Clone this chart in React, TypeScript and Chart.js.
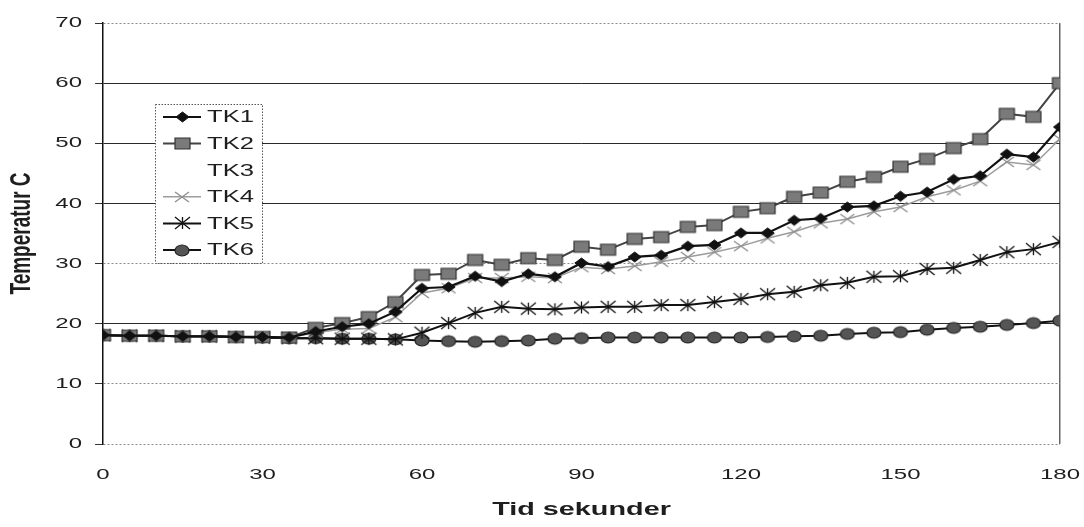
import React, { useEffect, useRef } from 'react';
import { Chart, registerables } from 'chart.js';

Chart.register(...registerables);

// ---------- data ----------
const TIME = [0, 5, 10, 15, 20, 25, 30, 35, 40, 45, 50, 55, 60, 65, 70, 75, 80, 85, 90, 95, 100, 105, 110, 115, 120, 125, 130, 135, 140, 145, 150, 155, 160, 165, 170, 175, 180];

const TK1 = [18.1, 18, 18, 17.9, 17.9, 17.8, 17.8, 17.7, 18.7, 19.5, 20, 22, 25.9, 26.1, 27.9, 27, 28.3, 27.8, 30.1, 29.5, 31.1, 31.4, 32.9, 33.1, 35.1, 35.1, 37.2, 37.5, 39.4, 39.6, 41.2, 41.9, 44, 44.6, 48.2, 47.7, 52.7];
const TK2 = [18.1, 18, 18, 17.9, 17.9, 17.8, 17.8, 17.7, 19.3, 20.1, 21.1, 23.6, 28.1, 28.3, 30.6, 29.8, 30.9, 30.6, 32.8, 32.3, 34.1, 34.4, 36.1, 36.4, 38.6, 39.2, 41.1, 41.8, 43.6, 44.4, 46.1, 47.4, 49.2, 50.7, 54.9, 54.4, 60];
const TK3: number[] = [];
const TK4 = [18.1, 18, 18, 17.9, 17.9, 17.8, 17.8, 17.7, 18.5, 19.1, 19.2, 21.1, 25.1, 25.9, 27.6, 27.6, 27.8, 27.6, 29.4, 29.1, 29.6, 30.3, 31.1, 31.9, 32.9, 34.2, 35.3, 36.7, 37.4, 38.6, 39.4, 41.1, 42.2, 43.7, 46.9, 46.4, 50.7];
const TK5 = [18.1, 18, 18, 17.9, 17.9, 17.8, 17.7, 17.6, 17.6, 17.5, 17.5, 17.4, 18.5, 20.1, 21.8, 22.8, 22.5, 22.4, 22.7, 22.8, 22.8, 23.1, 23.1, 23.6, 24.1, 24.9, 25.3, 26.4, 26.8, 27.8, 27.9, 29.1, 29.3, 30.6, 31.9, 32.4, 33.6];
const TK6 = [18.1, 18, 18, 17.9, 17.9, 17.8, 17.7, 17.6, 17.6, 17.5, 17.5, 17.4, 17.2, 17.1, 17, 17.1, 17.2, 17.5, 17.6, 17.7, 17.7, 17.7, 17.7, 17.7, 17.7, 17.8, 17.9, 18, 18.3, 18.5, 18.6, 19, 19.3, 19.5, 19.8, 20.1, 20.5];

const SERIES_LABELS = ['TK1', 'TK2', 'TK3', 'TK4', 'TK5', 'TK6'];
const SERIES_VALUES = [TK1, TK2, TK3, TK4, TK5, TK6];
const X_TICKS = [0, 30, 60, 90, 120, 150, 180];
const Y_TICKS = [0, 10, 20, 30, 40, 50, 60, 70];
const X_TITLE = 'Tid sekunder';
const Y_TITLE = 'Temperatur C';

// ---------- styles ----------
const FONT = 'Liberation Sans';
const TEXT = '#1e1e1e';
const STRETCH = 1.6; // the reference scan is stretched horizontally

type MarkerDef = { kind: string; w: number; h: number; fill: string; stroke: string; lw: number } | null;

const STYLES: { line: string; width: number; marker: MarkerDef }[] = [
  { line: '#111', width: 2.2, marker: { kind: 'diamond', w: 13, h: 10, fill: '#111', stroke: '#111', lw: 1 } },
  { line: '#444', width: 2, marker: { kind: 'rect', w: 15, h: 11, fill: '#7a7a7a', stroke: '#333', lw: 1.2 } },
  { line: 'rgba(0,0,0,0)', width: 0, marker: null },
  { line: '#9c9c9c', width: 1.5, marker: { kind: 'x', w: 14, h: 10, fill: '#999', stroke: '#8f8f8f', lw: 1.4 } },
  { line: '#111', width: 2, marker: { kind: 'star', w: 15, h: 12, fill: '#111', stroke: '#111', lw: 1.3 } },
  { line: '#111', width: 2, marker: { kind: 'ellipse', w: 14, h: 11, fill: '#555', stroke: '#222', lw: 1.2 } },
];

function makeMarker(m: MarkerDef): HTMLCanvasElement | null {
  if (!m) return null;
  const c = document.createElement('canvas');
  const pad = 2;
  c.width = Math.ceil(m.w + pad * 2);
  c.height = Math.ceil(m.h + pad * 2);
  const g = c.getContext('2d')!;
  const cx = c.width / 2, cy = c.height / 2;
  g.lineWidth = m.lw;
  g.fillStyle = m.fill;
  g.strokeStyle = m.stroke;
  g.beginPath();
  if (m.kind === 'rect') {
    g.rect(cx - m.w / 2, cy - m.h / 2, m.w, m.h);
    g.fill();
    g.stroke();
  } else if (m.kind === 'ellipse') {
    g.ellipse(cx, cy, m.w / 2, m.h / 2, 0, 0, Math.PI * 2);
    g.fill();
    g.stroke();
  } else if (m.kind === 'diamond') {
    g.moveTo(cx, cy - m.h / 2);
    g.lineTo(cx + m.w / 2, cy);
    g.lineTo(cx, cy + m.h / 2);
    g.lineTo(cx - m.w / 2, cy);
    g.closePath();
    g.fill();
    g.stroke();
  } else {
    g.moveTo(cx - m.w / 2, cy - m.h / 2);
    g.lineTo(cx + m.w / 2, cy + m.h / 2);
    g.moveTo(cx + m.w / 2, cy - m.h / 2);
    g.lineTo(cx - m.w / 2, cy + m.h / 2);
    if (m.kind === 'star') {
      g.moveTo(cx, cy - m.h / 2);
      g.lineTo(cx, cy + m.h / 2);
    }
    g.stroke();
  }
  return c;
}

function patchText(ctx: any) {
  if (ctx.__stretched) return;
  const orig = ctx.fillText;
  ctx.fillText = function (text: string, x: number, y: number, maxWidth?: number) {
    const t = this.getTransform();
    this.save();
    this.translate(x, y);
    if (Math.abs(t.b) > 0.5) this.scale(1, STRETCH);
    else this.scale(STRETCH, 1);
    if (maxWidth !== undefined) orig.call(this, text, 0, 0, maxWidth / STRETCH);
    else orig.call(this, text, 0, 0);
    this.restore();
  };
  ctx.__stretched = true;
}

export default function App() {
  const ref = useRef<HTMLCanvasElement | null>(null);

  useEffect(() => {
    document.body.style.margin = '0';
    if (!ref.current) return;
    const markers = STYLES.map((s) => makeMarker(s.marker));

    const legendPlugin = {
      id: 'boxLegend',
      beforeDraw(chart: any) {
        patchText(chart.ctx);
      },
      afterDraw(chart: any) {
        const ctx = chart.ctx as CanvasRenderingContext2D;
        ctx.save();
        const bx = 155, by = 104, bw = 107, bh = 159;
        ctx.fillStyle = '#fff';
        ctx.fillRect(bx, by, bw, bh);
        ctx.setLineDash([1.5, 1.5]);
        ctx.strokeStyle = '#555';
        ctx.lineWidth = 1;
        ctx.strokeRect(bx + 0.5, by + 0.5, bw, bh);
        ctx.setLineDash([]);
        const rowGap = 26.6;
        SERIES_LABELS.forEach((label, i) => {
          const st = STYLES[i];
          const y = by + 13 + i * rowGap;
          if (st.width > 0) {
            ctx.strokeStyle = st.line;
            ctx.lineWidth = st.width;
            ctx.beginPath();
            ctx.moveTo(163, y);
            ctx.lineTo(201, y);
            ctx.stroke();
          }
          const mk = markers[i];
          if (mk) ctx.drawImage(mk, Math.round(182 - mk.width / 2), Math.round(y - mk.height / 2));
          ctx.fillStyle = TEXT;
          ctx.font = `16px "${FONT}"`;
          ctx.textAlign = 'left';
          ctx.textBaseline = 'middle';
          ctx.fillText(label, 207, y + 1);
        });
        ctx.restore();
      },
    };

    const datasets = SERIES_LABELS.map((label, i) => ({
      label,
      data: SERIES_VALUES[i].map((v, j) => ({ x: TIME[j], y: v })),
      borderColor: STYLES[i].line,
      borderWidth: STYLES[i].width,
      backgroundColor: STYLES[i].line,
      pointStyle: markers[i] || false,
      pointRadius: markers[i] ? 7 : 0,
      fill: false,
      tension: 0,
    }));

    const chart = new Chart(ref.current, {
      type: 'line',
      data: { datasets },
      plugins: [legendPlugin],
      options: {
        responsive: false,
        animation: false,
        layout: { padding: { top: 23, right: 24, left: 0, bottom: 0 } },
        plugins: { legend: { display: false }, tooltip: { enabled: false } },
        scales: {
          x: {
            type: 'linear',
            min: 0,
            max: 180,
            afterBuildTicks: (s: any) => { s.ticks = X_TICKS.map((v) => ({ value: v })); },
            afterFit: (s: any) => { s.height = 83; s.paddingLeft = 0; s.paddingRight = 0; },
            ticks: { padding: 22, color: TEXT, font: { family: FONT, size: 15 }, maxRotation: 0 },
            grid: {
              drawTicks: false,
              lineWidth: 1.5,
              color: (c: any) => (c.tick && c.tick.value === 180 ? '#666' : 'rgba(0,0,0,0)'),
            },
            border: { display: false },
            title: { display: true, text: X_TITLE, color: TEXT, font: { family: FONT, size: 18, weight: 'bold' }, padding: { top: 0, bottom: 6 } },
          },
          y: {
            min: 0,
            max: 70,
            afterBuildTicks: (s: any) => { s.ticks = Y_TICKS.map((v) => ({ value: v })); },
            afterFit: (s: any) => { s.width = 103; s.paddingTop = 0; s.paddingBottom = 0; },
            ticks: { padding: 13, color: TEXT, font: { family: FONT, size: 15 } },
            grid: {
              tickLength: 8,
              lineWidth: 1,
              color: (c: any) => {
                const v = c.tick ? c.tick.value : 0;
                return v === 20 || v === 40 || v === 50 || v === 60 ? '#2a2a2a' : '#8a8a8a';
              },
              tickColor: '#333',
            },
            border: {
              display: true,
              color: '#111',
              width: 1.5,
              dash: (c: any) => {
                const v = c.tick ? c.tick.value : 0;
                return v === 20 || v === 40 || v === 50 || v === 60 ? [] : [2, 2];
              },
            },
            title: { display: true, text: Y_TITLE, color: TEXT, font: { family: FONT, size: 19, weight: 'bold' }, padding: { top: 10, bottom: 0 } },
          },
        },
      } as any,
    });
    return () => chart.destroy();
  }, []);

  return (
    <div style={{ position: 'absolute', left: 0, top: 0, width: 1084, height: 527, background: '#fff' }}>
      <canvas ref={ref} width={1084} height={527} style={{ display: 'block' }} />
    </div>
  );
}
